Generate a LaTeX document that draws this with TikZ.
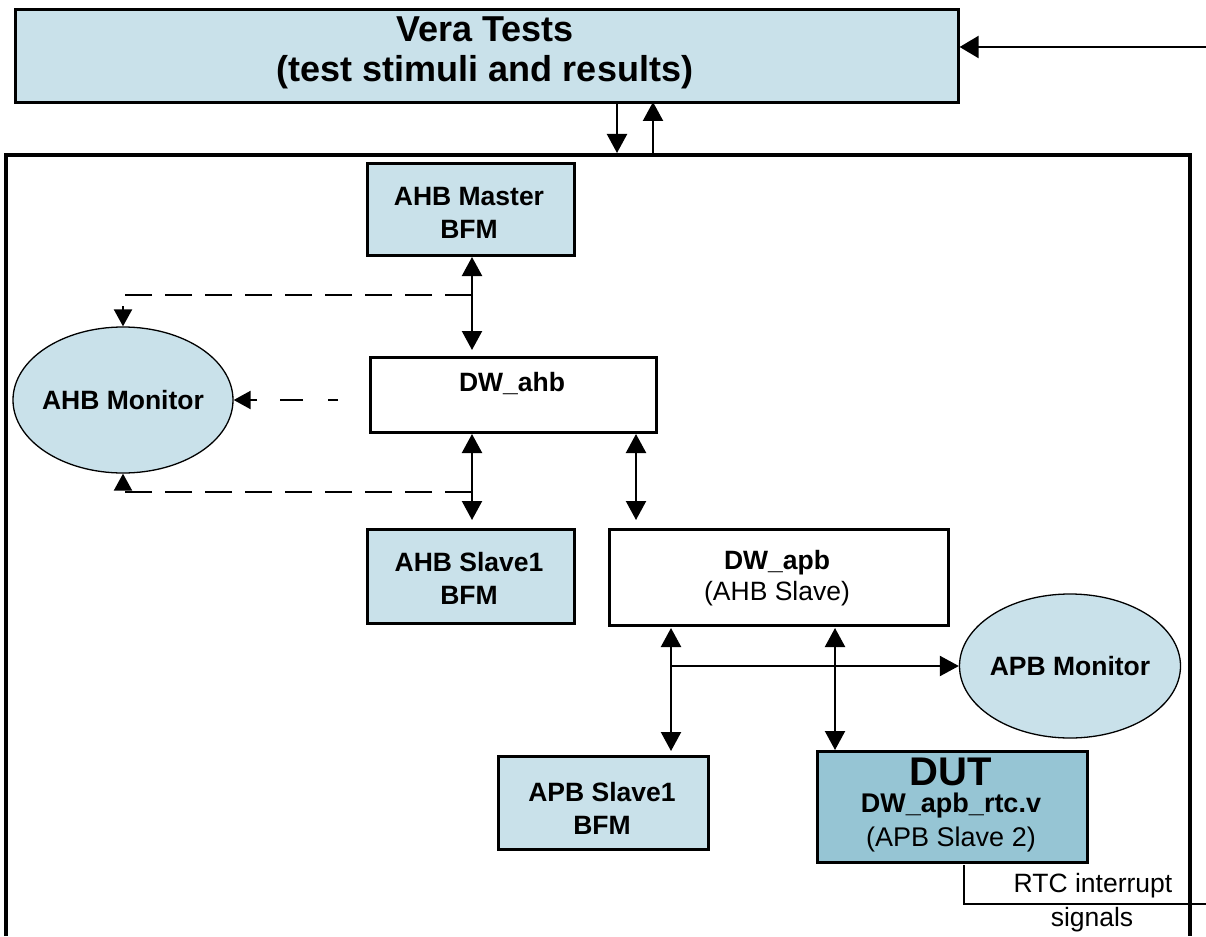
\documentclass[tikz,border=0pt]{standalone}
\usepackage{fontspec}
\setmainfont{Liberation Sans}
\usetikzlibrary{arrows.meta,shapes.geometric,calc}
\definecolor{lblue}{RGB}{201,225,234}
\definecolor{dblue}{RGB}{150,197,212}
\tikzset{
  box/.style={draw, line width=2.6pt, inner sep=0pt, anchor=north west},
  mon/.style={draw, ellipse, fill=lblue, line width=1.3pt, inner sep=0pt},
  txt/.style={align=center, inner sep=0pt, font=\fontsize{26.5}{33}\selectfont\bfseries},
  ntxt/.style={align=center, inner sep=0pt, font=\fontsize{26.5}{33}\selectfont},
  title/.style={align=center, inner sep=0pt, font=\fontsize{36}{40}\selectfont\bfseries},
  conn/.style={line width=2.2pt},
  both/.style={conn, {Triangle[length=19pt,width=20pt]}-{Triangle[length=19pt,width=20pt]}},
  one/.style={conn, -{Triangle[length=19pt,width=20pt]}},
  dashc/.style={line width=2.2pt, dash pattern=on 27pt off 13pt, -{Triangle[length=17pt,width=18pt]}},
}
\begin{document}
\begin{tikzpicture}[x=1pt,y=-1pt]
\useasboundingbox (0,0) rectangle (1206,936);
\fill[white] (0,0) rectangle (1206,936);

% outer frame
\draw[line width=4pt] (6,936) -- (6,155) -- (1190,155) -- (1190,936);

% Vera Tests
\node[box, fill=lblue, minimum width=943pt, minimum height=93pt] (vera) at (14,8) {};
\node[title] (veraT) at (485,53) {Vera Tests\\(test stimuli and results)};
\coordinate (inR) at (1206,47);
\draw[conn, -{Triangle[length=19pt,width=22pt]}] (inR) -- (inR -| vera.east);

% boxes
\node[box, fill=lblue, minimum width=207pt, minimum height=92pt] (ahbm) at (366,162) {};
\node[txt] (ahbmT) at (469,213) {AHB Master\\BFM};

\node[box, fill=white, minimum width=286pt, minimum height=75pt] (dwahb) at (369,356) {};
\node[txt] (dwahbT) at (512,384) {DW\_ahb};

\node[box, fill=lblue, minimum width=207pt, minimum height=94pt] (ahbs) at (366,528) {};
\node[txt] (ahbsT) at (469,578) {AHB Slave1\\BFM};

\node[box, fill=white, minimum width=339pt, minimum height=96pt] (dwapb) at (608,528) {};
\node[txt] (dwapbT) at (777,563) {DW\_apb};
\node[ntxt] (dwapbS) at (777,594) {(AHB Slave)};

\node[box, fill=lblue, minimum width=210pt, minimum height=93pt] (apbs) at (497,755) {};
\node[txt] (apbsT) at (602,808) {APB Slave1\\BFM};

\node[box, fill=dblue, minimum width=270pt, minimum height=111pt] (dut) at (816,750) {};
\node[inner sep=0pt, font=\fontsize{40}{40}\selectfont\bfseries] (dutT) at (951,772) {DUT};
\node[inner sep=0pt, font=\fontsize{27}{30}\selectfont\bfseries] (dutF) at (951,806) {DW\_apb\_rtc.v};
\node[inner sep=0pt, font=\fontsize{27}{30}\selectfont] (dutS) at (951,840) {(APB Slave 2)};

% monitors
\node[mon, minimum width=220pt, minimum height=146pt] (ahbmon) at (123,400) {};
\node[txt] (ahbmonT) at (123,400) {AHB Monitor};
\node[mon, minimum width=221pt, minimum height=144pt] (apbmon) at (1070,666) {};
\node[txt] (apbmonT) at (1070,666) {APB Monitor};

% Vera <-> frame
\draw[one] (617,104) -- (617,153);
\draw[one] (653,153) -- (653,102);

% vertical bus arrows
\coordinate (a1t) at (472,257); \coordinate (a1b) at (472,350);
\draw[both] (a1t) -- (a1b);
\coordinate (a2t) at (472,434); \coordinate (a2b) at (472,520);
\draw[both] (a2t) -- (a2b);
\coordinate (a3t) at (636,434); \coordinate (a3b) at (636,520);
\draw[both] (a3t) -- (a3b);
\coordinate (a4t) at (671,628); \coordinate (a4b) at (671,751);
\draw[both] (a4t) -- (a4b);
\coordinate (a5t) at (835,628); \coordinate (a5b) at (835,750);
\draw[both] (a5t) -- (a5b);

% APB monitor tap
\coordinate (tap) at (671,666);
\draw[one] (tap) -- (apbmon.west);

% AHB monitor dashed taps
\coordinate (d1) at (472,295);
\draw[dashc] (d1) -| (ahbmon.north);
\coordinate (d2) at (338,400);
\draw[dashc, dash pattern=on 10pt off 25pt on 23pt off 23pt] (d2) -- (ahbmon.east);
\coordinate (d3) at (472,492);
\draw[dashc] (d3) -| (ahbmon.south);

% RTC interrupt
\coordinate (r1) at (964,865); \coordinate (r2) at (964,904); \coordinate (r3) at (1206,904);
\draw[line width=2pt] (r1) -- (r2) -- (r3);
\node[ntxt] (rtcT) at (1093,886) {RTC interrupt};
\node[ntxt] (rtcS) at (1092,920) {signals};
\end{tikzpicture}
\end{document}
